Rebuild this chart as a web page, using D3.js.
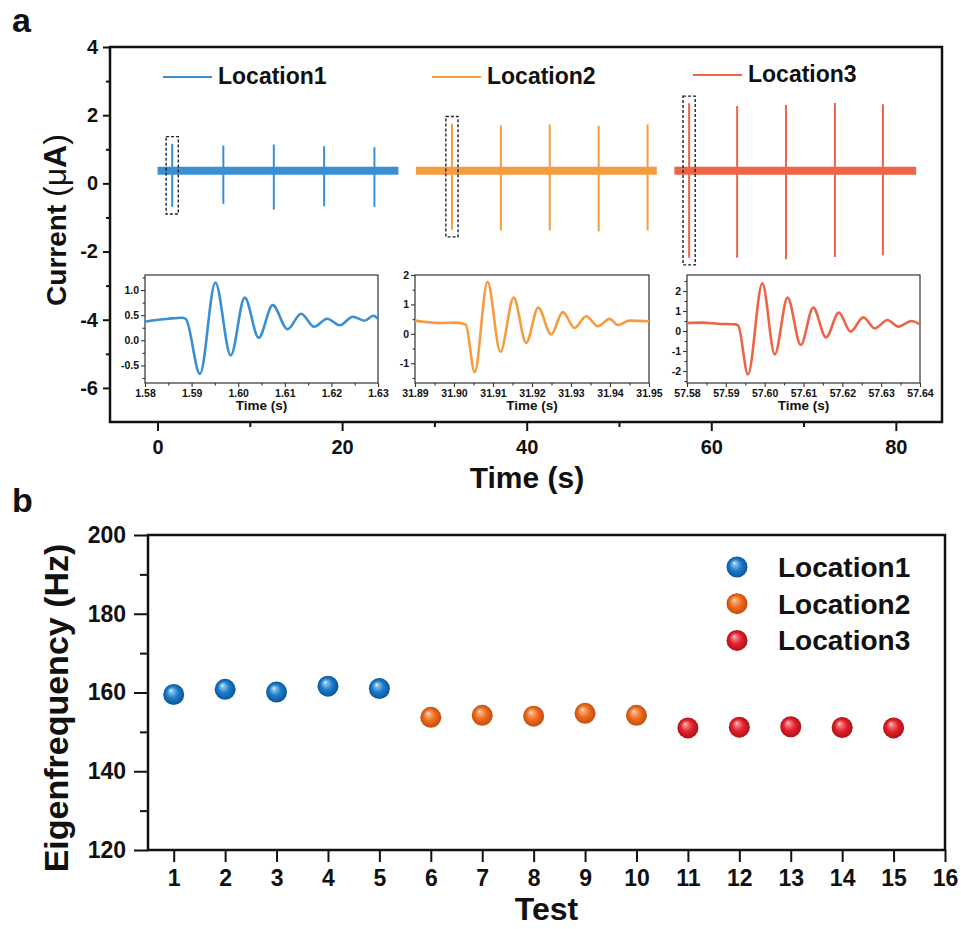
<!DOCTYPE html>
<html>
<head>
<meta charset="utf-8">
<script src="https://cdn.jsdelivr.net/npm/d3@7"></script>
<style>
  body { margin: 0; background: #fff; }
  text { font-family: "Liberation Sans", Arial, sans-serif; fill: #111; }
</style>
</head>
<body>
<div id="chart"></div>
<script>
// ---- donnees panneau a : traces de courant ----
const locNames = ["Location1", "Location2", "Location3"];
const traceColors = ["#3a8fd2", "#f59c40", "#ec6547"];
const baseLevel = 0.37;
const traceSpans = [[0, 26.1], [28.0, 54.1], [56.0, 82.2]];
const spikeTimes = [
    [1.59, 7.13, 12.6, 18.05, 23.5],
    [31.9, 37.2, 42.5, 47.8, 53.1],
    [57.6, 62.8, 68.1, 73.4, 78.6]
];
const spikeMax = [
    [1.16, 1.11, 1.14, 1.09, 1.06],
    [1.75, 1.70, 1.73, 1.69, 1.73],
    [2.35, 2.27, 2.30, 2.36, 2.32]
];
const spikeMin = [
    [-0.69, -0.60, -0.77, -0.67, -0.69],
    [-1.36, -1.38, -1.38, -1.41, -1.38],
    [-2.18, -2.18, -2.23, -2.16, -2.11]
];

// zooms (insets)
const inset1 = [[1.58,0.37],[1.582,0.40],[1.585,0.43],[1.588,0.45],[1.5888,0.42],[1.5918,-0.67],[1.5951,1.15],[1.5984,-0.30],[1.6014,0.85],[1.6044,0.05],[1.6074,0.70],[1.6106,0.22],[1.6135,0.53],[1.6163,0.27],[1.6191,0.43],[1.6218,0.30],[1.6246,0.47],[1.6271,0.39],[1.629,0.49],[1.63,0.43]];
const inset2 = [[31.89,0.45],[31.893,0.40],[31.897,0.37],[31.9005,0.38],[31.903,0.32],[31.9053,-1.30],[31.9086,1.77],[31.9119,-0.61],[31.9153,1.23],[31.9185,-0.31],[31.9216,0.89],[31.9249,-0.02],[31.9279,0.74],[31.9309,0.20],[31.9339,0.60],[31.9369,0.26],[31.9399,0.51],[31.942,0.30],[31.945,0.45],[31.95,0.43]];
const inset3 = [[57.58,0.40],[57.584,0.42],[57.588,0.36],[57.5925,0.33],[57.5932,0.27],[57.5957,-2.17],[57.5994,2.38],[57.6026,-1.17],[57.6059,1.67],[57.6093,-0.70],[57.6125,1.17],[57.6158,-0.32],[57.6191,0.92],[57.6221,-0.03],[57.6254,0.68],[57.6284,0.13],[57.6316,0.55],[57.6344,0.22],[57.6378,0.50],[57.64,0.33]];
const insetData = [inset1, inset2, inset3];
const insetXDomains = [[1.58, 1.63], [31.89, 31.95], [57.58, 57.64]];
const insetYDomains = [[-0.85, 1.3], [-1.67, 2.0], [-2.6, 2.8]];
const insetYTicks = [[-0.5, 0, 0.5, 1.0], [-1, 0, 1, 2], [-2, -1, 0, 1, 2]];
const insetYMinor = [[-0.75, -0.25, 0.25, 0.75, 1.25], [-1.5, -0.5, 0.5, 1.5], [-2.5, -1.5, -0.5, 0.5, 1.5, 2.5]];
const insetYFormat = [".1f", "d", "d"];

// ---- donnees panneau b : frequences propres ----
const tests = d3.range(1, 16);
const eigenFreq = [159.5, 160.8, 160.1, 161.6, 161.0, 153.7, 154.2, 154.0, 154.7, 154.2, 151.0, 151.2, 151.3, 151.1, 151.0];
const testGroup = [0,0,0,0,0, 1,1,1,1,1, 2,2,2,2,2];
const sphereColors = [
    { light: "#8cc6f0", base: "#1b7bcc", dark: "#0b5598" },
    { light: "#fbb380", base: "#f06b20", dark: "#c24c0c" },
    { light: "#f7898c", base: "#e5222b", dark: "#ad1118" }
];

const width = 961, height = 929;
const font = "'Liberation Sans', Arial, sans-serif";

// format avec un tiret simple comme dans Origin
const fmt = spec => { const f = d3.format(spec); return d => f(d).replace("\u2212", "-"); };

const svg = d3.select("#chart").append("svg")
    .attr("width", width)
    .attr("height", height);

const defs = svg.append("defs");
sphereColors.forEach((c, i) => {
    const g = defs.append("radialGradient")
        .attr("id", "sphere" + i)
        .attr("cx", "50%").attr("cy", "50%").attr("r", "50%")
        .attr("fx", "36%").attr("fy", "30%");
    g.append("stop").attr("offset", "0%").attr("stop-color", "#ffffff");
    g.append("stop").attr("offset", "14%").attr("stop-color", c.light);
    g.append("stop").attr("offset", "55%").attr("stop-color", c.base);
    g.append("stop").attr("offset", "100%").attr("stop-color", c.dark);
});

function styleAxis(g, size) {
    g.select(".domain").remove();
    g.selectAll(".tick line").attr("stroke", "#111").attr("stroke-width", 2);
    g.selectAll(".tick text")
        .style("font-family", font)
        .style("font-weight", "bold")
        .style("font-size", size + "px")
        .attr("fill", "#111");
}

///// Panneau a /////
const aX = d3.scaleLinear().domain([-5.15, 85]).range([110, 942]);
const aY = d3.scaleLinear().domain([-7, 4]).range([422, 47]);

svg.append("text").attr("x", 12).attr("y", 32)
    .style("font-size", "34px").style("font-weight", "bold").text("a");

// axes
svg.append("g").attr("transform", `translate(${aX.range()[0]},0)`)
    .call(d3.axisLeft(aY).tickValues([-6, -4, -2, 0, 2, 4]).tickSize(7).tickPadding(5).tickFormat(fmt("d")))
    .call(g => styleAxis(g, 20));
svg.append("g").attr("transform", `translate(${aX.range()[0]},0)`)
    .call(d3.axisLeft(aY).tickValues([-5, -3, -1, 1, 3]).tickSize(4).tickFormat(""))
    .call(g => styleAxis(g, 20));
svg.append("g").attr("transform", `translate(0,${aY.range()[0]})`)
    .call(d3.axisBottom(aX).tickValues([0, 20, 40, 60, 80]).tickSize(9).tickPadding(9))
    .call(g => styleAxis(g, 20));
svg.append("g").attr("transform", `translate(0,${aY.range()[0]})`)
    .call(d3.axisBottom(aX).tickValues([10, 30, 50, 70]).tickSize(5).tickFormat(""))
    .call(g => styleAxis(g, 20));

svg.append("rect")
    .attr("x", aX.range()[0]).attr("y", aY.range()[1])
    .attr("width", aX.range()[1] - aX.range()[0])
    .attr("height", aY.range()[0] - aY.range()[1])
    .attr("fill", "none").attr("stroke", "#111").attr("stroke-width", 2.5);

svg.append("text")
    .attr("x", (aX.range()[0] + aX.range()[1]) / 2 + 1).attr("y", 488)
    .attr("text-anchor", "middle")
    .style("font-size", "30px").style("font-weight", "bold")
    .text("Time (s)");

const yTitleA = svg.append("text")
    .attr("transform", "translate(66,220) rotate(-90)")
    .attr("text-anchor", "middle")
    .style("font-size", "28px");
yTitleA.append("tspan").style("font-weight", "bold").text("Current ");
yTitleA.append("tspan").style("font-size", "32px").text("(\u03bc");
yTitleA.append("tspan").style("font-size", "32px").style("font-weight", "bold").text("A");
yTitleA.append("tspan").style("font-size", "32px").text(")");

// traces
const traces = svg.append("g");
traceSpans.forEach((span, i) => {
    traces.append("line")
        .attr("x1", aX(span[0])).attr("x2", aX(span[1]))
        .attr("y1", aY(baseLevel)).attr("y2", aY(baseLevel))
        .attr("stroke", traceColors[i]).attr("stroke-width", 8);
    traces.selectAll(null)
        .data(spikeTimes[i])
        .join("line")
        .attr("x1", d => aX(d)).attr("x2", d => aX(d))
        .attr("y1", (d, j) => aY(spikeMax[i][j]))
        .attr("y2", (d, j) => aY(spikeMin[i][j]))
        .attr("stroke", traceColors[i]).attr("stroke-width", 2);
    // cadre pointille autour du pic agrandi
    const t0 = spikeTimes[i][0];
    traces.append("rect")
        .attr("x", aX(t0 - 0.66)).attr("y", aY(spikeMax[i][0] + 0.21))
        .attr("width", aX(t0 + 0.66) - aX(t0 - 0.66))
        .attr("height", aY(spikeMin[i][0] - 0.21) - aY(spikeMax[i][0] + 0.21))
        .attr("fill", "none").attr("stroke", "#222")
        .attr("stroke-width", 1.4).attr("stroke-dasharray", "3,2");
});

// legende a
const legendA = [{ x: 163, y: 77 }, { x: 432, y: 77 }, { x: 693, y: 75 }];
legendA.forEach((p, i) => {
    svg.append("line")
        .attr("x1", p.x).attr("x2", p.x + 49)
        .attr("y1", p.y).attr("y2", p.y)
        .attr("stroke", traceColors[i]).attr("stroke-width", 2);
    svg.append("text")
        .attr("x", p.x + 55).attr("y", p.y + 7)
        .style("font-size", "23px").style("font-weight", "bold")
        .text(locNames[i]);
});

// insets
const insetBoxes = [
    { x0: 145, x1: 378, y0: 275, y1: 383 },
    { x0: 415, x1: 649, y0: 275, y1: 383 },
    { x0: 687, x1: 920, y0: 275, y1: 383 }
];
insetBoxes.forEach((b, i) => {
    const ix = d3.scaleLinear().domain(insetXDomains[i]).range([b.x0, b.x1]);
    const iy = d3.scaleLinear().domain(insetYDomains[i]).range([b.y1, b.y0]);
    const g = svg.append("g");

    g.append("rect")
        .attr("x", b.x0).attr("y", b.y0)
        .attr("width", b.x1 - b.x0).attr("height", b.y1 - b.y0)
        .attr("fill", "#fff").attr("stroke", "#333").attr("stroke-width", 1.2);

    const xMajor = d3.range(7).map(k => insetXDomains[i][0] + k * 0.01).filter(v => v <= insetXDomains[i][1] + 1e-9);
    const xMinor = xMajor.slice(0, -1).map(v => v + 0.005);

    g.append("g").attr("transform", `translate(0,${b.y1})`)
        .call(d3.axisBottom(ix).tickValues(xMajor).tickSize(4).tickPadding(3).tickFormat(d3.format(".2f")))
        .call(a => styleAxis(a, 10.5));
    g.append("g").attr("transform", `translate(0,${b.y1})`)
        .call(d3.axisBottom(ix).tickValues(xMinor).tickSize(2.5).tickFormat(""))
        .call(a => styleAxis(a, 10.5));
    g.append("g").attr("transform", `translate(${b.x0},0)`)
        .call(d3.axisLeft(iy).tickValues(insetYTicks[i]).tickSize(4).tickPadding(2).tickFormat(fmt(insetYFormat[i])))
        .call(a => styleAxis(a, 10.5));
    g.append("g").attr("transform", `translate(${b.x0},0)`)
        .call(d3.axisLeft(iy).tickValues(insetYMinor[i].filter(v => v > insetYDomains[i][0] && v < insetYDomains[i][1])).tickSize(2.5).tickFormat(""))
        .call(a => styleAxis(a, 10.5));
    g.selectAll(".tick line").attr("stroke-width", 1.1).attr("stroke", "#333");

    g.append("text")
        .attr("x", (b.x0 + b.x1) / 2).attr("y", b.y1 + 27)
        .attr("text-anchor", "middle")
        .style("font-size", "13.5px").style("font-weight", "bold")
        .text("Time (s)");

    const line = d3.line()
        .x(d => ix(d[0]))
        .y(d => iy(d[1]))
        .curve(d3.curveMonotoneX);
    g.append("path")
        .datum(insetData[i])
        .attr("d", line)
        .attr("fill", "none")
        .attr("stroke", traceColors[i])
        .attr("stroke-width", 2.6)
        .attr("stroke-linejoin", "round");
});

///// Panneau b /////
const bX = d3.scaleLinear().domain([0.5, 16]).range([148, 945]);
const bY = d3.scaleLinear().domain([120, 200]).range([850, 535]);

svg.append("text").attr("x", 12).attr("y", 512)
    .style("font-size", "34px").style("font-weight", "bold").text("b");

svg.append("g").attr("transform", `translate(${bX.range()[0]},0)`)
    .call(d3.axisLeft(bY).tickValues([120, 140, 160, 180, 200]).tickSize(14).tickPadding(8))
    .call(g => styleAxis(g, 23));
svg.append("g").attr("transform", `translate(${bX.range()[0]},0)`)
    .call(d3.axisLeft(bY).tickValues([130, 150, 170, 190]).tickSize(8).tickFormat(""))
    .call(g => styleAxis(g, 23));
svg.append("g").attr("transform", `translate(0,${bY.range()[0]})`)
    .call(d3.axisBottom(bX).tickValues(d3.range(1, 17)).tickSize(12).tickPadding(8))
    .call(g => styleAxis(g, 23));

svg.append("rect")
    .attr("x", bX.range()[0]).attr("y", bY.range()[1])
    .attr("width", bX.range()[1] - bX.range()[0])
    .attr("height", bY.range()[0] - bY.range()[1])
    .attr("fill", "none").attr("stroke", "#111").attr("stroke-width", 2.5);

svg.append("text")
    .attr("x", (bX.range()[0] + bX.range()[1]) / 2).attr("y", 920)
    .attr("text-anchor", "middle")
    .style("font-size", "32px").style("font-weight", "bold")
    .text("Test");

svg.append("text")
    .attr("transform", "translate(68,708) rotate(-90)")
    .attr("text-anchor", "middle")
    .style("font-size", "34px").style("font-weight", "bold")
    .text("Eigenfrequency (Hz)");

svg.append("g")
    .selectAll("circle")
    .data(tests)
    .join("circle")
    .attr("cx", d => bX(d))
    .attr("cy", (d, i) => bY(eigenFreq[i]))
    .attr("r", 10.5)
    .attr("fill", (d, i) => `url(#sphere${testGroup[i]})`);

// legende b
const legB = svg.append("g");
locNames.forEach((name, i) => {
    const y = 567 + i * 36.7;
    legB.append("circle")
        .attr("cx", 737).attr("cy", y).attr("r", 10.5)
        .attr("fill", `url(#sphere${i})`);
    legB.append("text")
        .attr("x", 778).attr("y", y + 10)
        .style("font-size", "28px").style("font-weight", "bold")
        .text(name);
});
</script>
</body>
</html>
